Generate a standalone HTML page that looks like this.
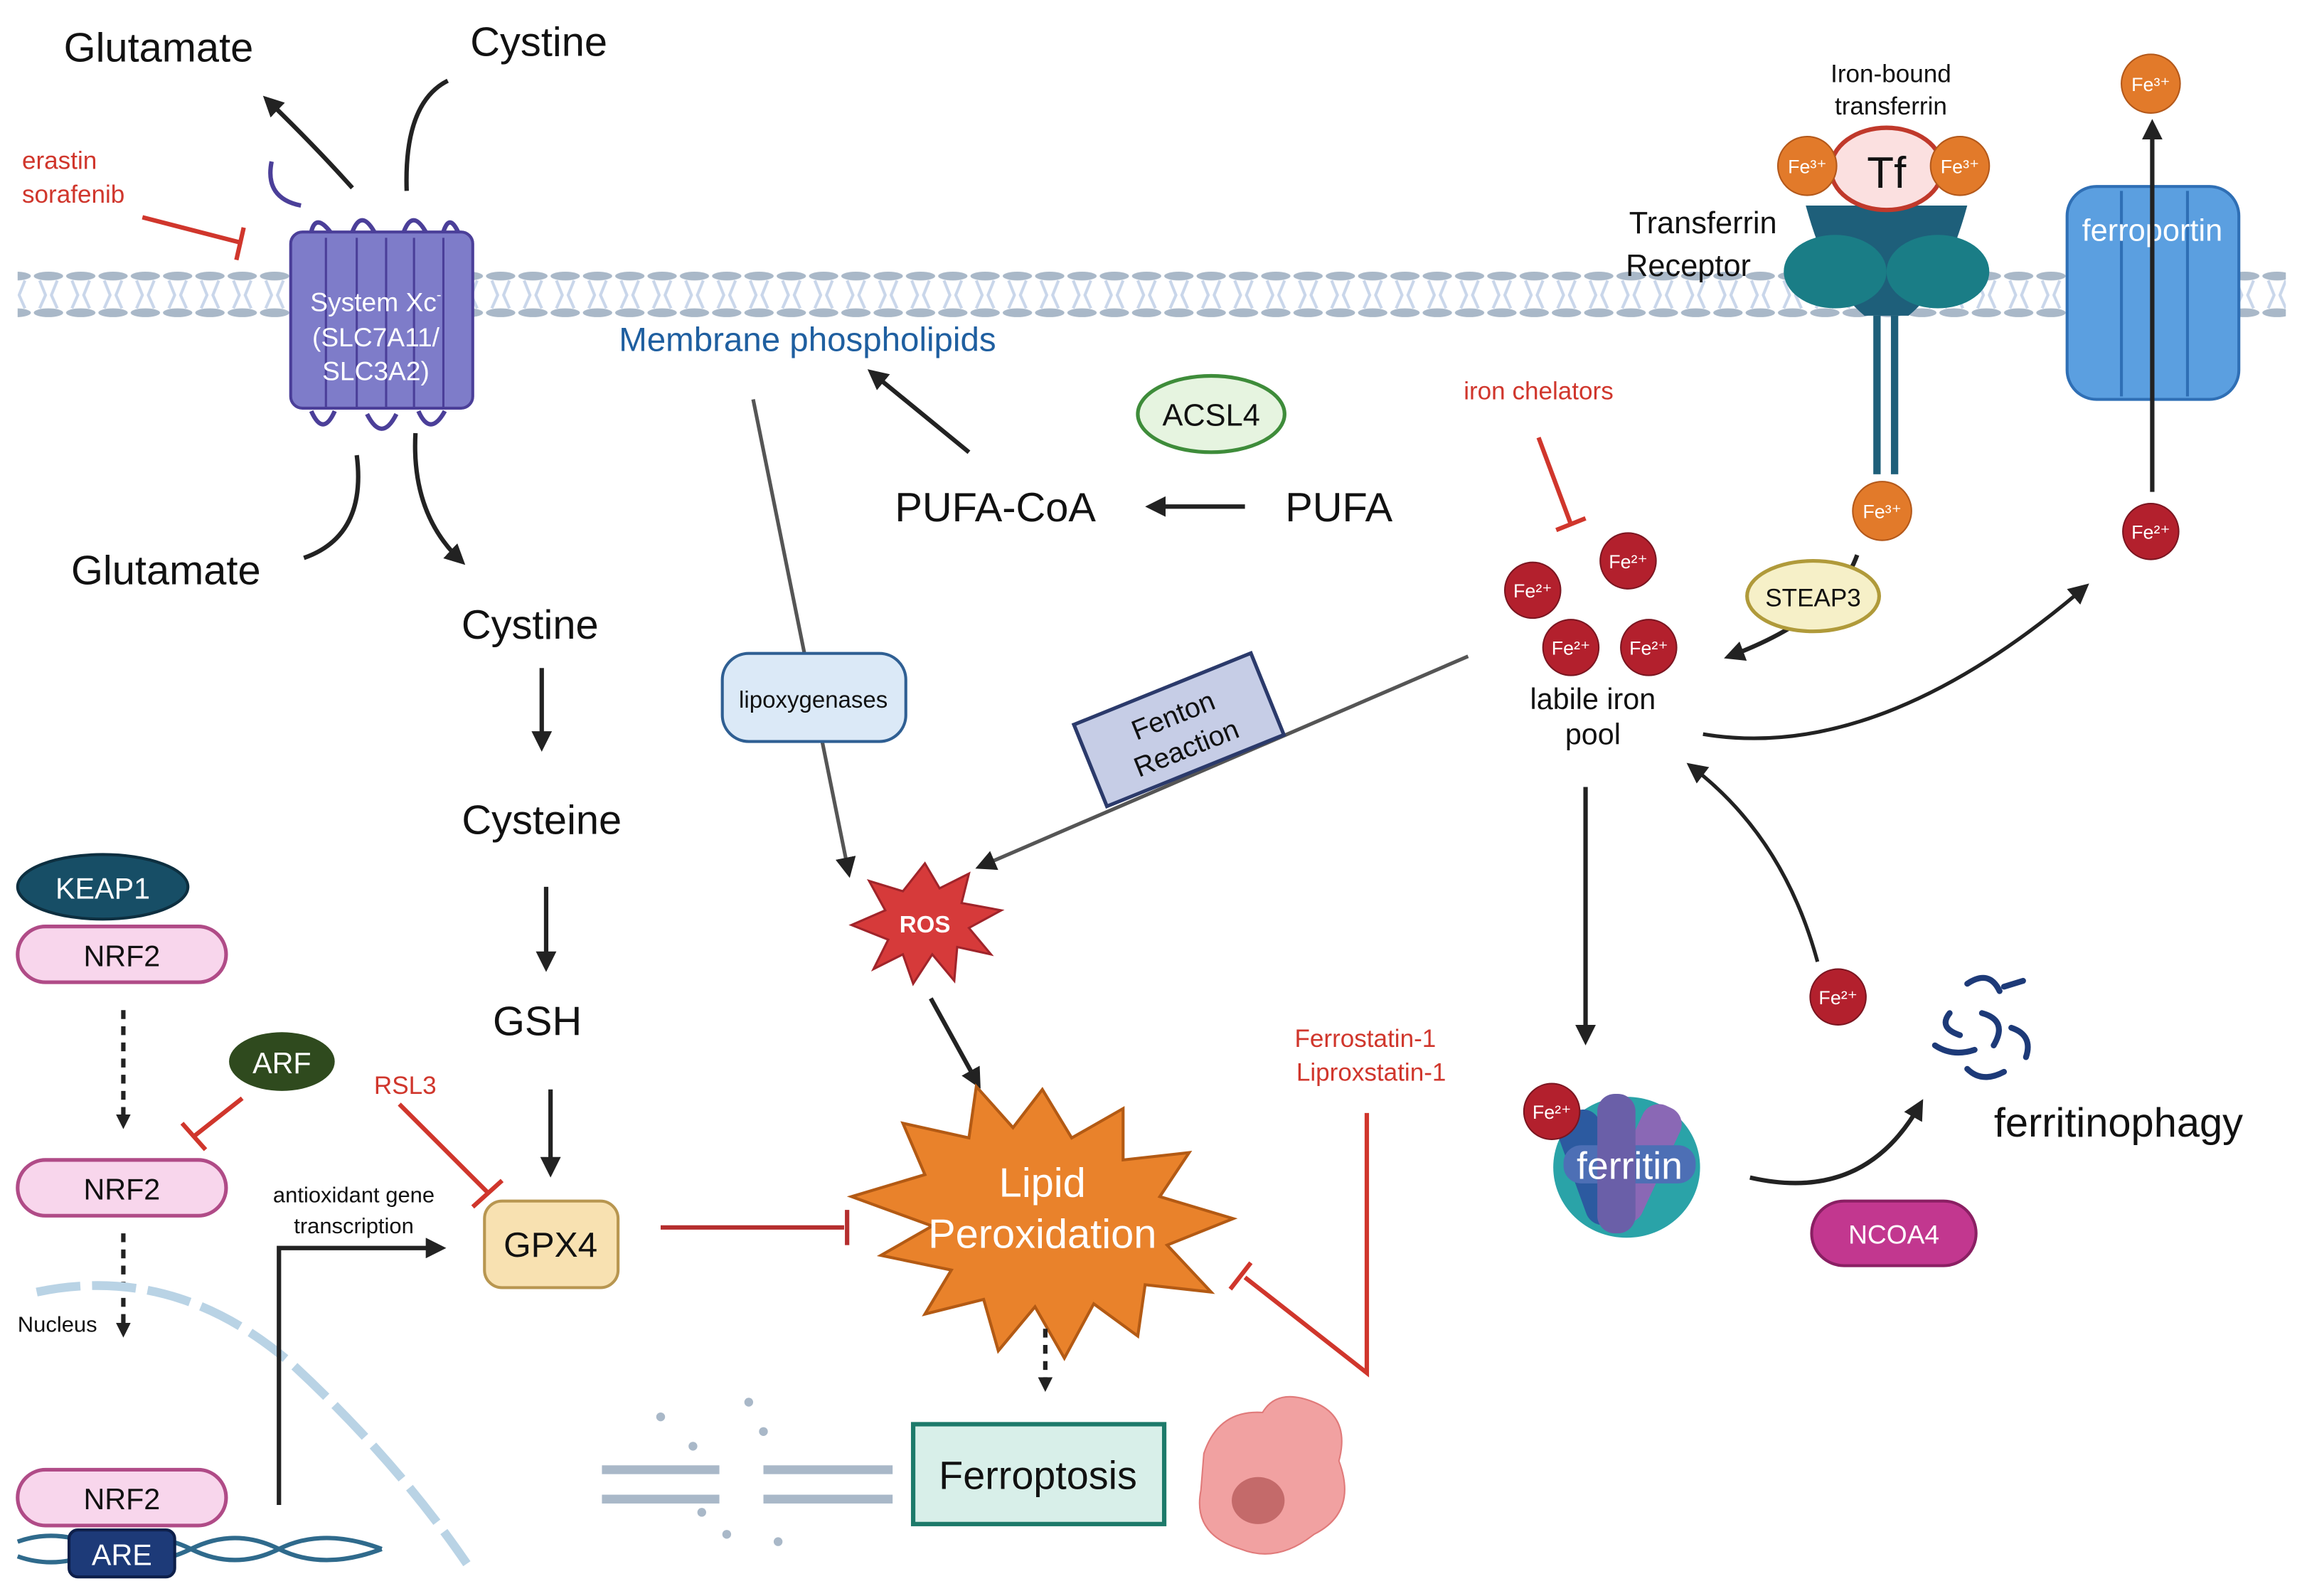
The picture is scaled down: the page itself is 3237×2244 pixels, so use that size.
<!DOCTYPE html>
<html><head><meta charset="utf-8"><style>
html,body{margin:0;padding:0;background:#fff}
svg{display:block}
text{font-family:"Liberation Sans",sans-serif}
</style></head><body>
<svg width="3237" height="2244" viewBox="0 0 1568 1087" xmlns="http://www.w3.org/2000/svg">
<defs>
<marker id="a" markerWidth="10" markerHeight="10" refX="7" refY="5" orient="auto" markerUnits="userSpaceOnUse"><path d="M0,0 L10,5 L0,10 z" fill="#222"/></marker>
<marker id="a2" markerWidth="14" markerHeight="14" refX="10" refY="7" orient="auto" markerUnits="userSpaceOnUse"><path d="M0,0 L14,7 L0,14 z" fill="#222"/></marker>
<pattern id="mem" width="22" height="32" patternUnits="userSpaceOnUse" y="185">
<ellipse cx="11" cy="3" rx="10" ry="3" fill="#a9b8c8"/>
<ellipse cx="11" cy="28" rx="10" ry="3" fill="#a9b8c8"/>
<path d="M5,6 L9,16 L5,25 M17,6 L13,16 L17,25" stroke="#c9d6ea" stroke-width="2" fill="none"/>
</pattern>
</defs>
<rect width="1568" height="1087" fill="#fff"/>
<!-- membrane -->
<rect x="12" y="185" width="1545" height="32" fill="url(#mem)"/>

<!-- top left -->
<text x="108" y="42" font-size="28" text-anchor="middle" fill="#111">Glutamate</text>
<text x="367" y="38" font-size="28" text-anchor="middle" fill="#111">Cystine</text>
<path d="M240,128 Q215,100 182,68" stroke="#222" stroke-width="3" fill="none" marker-end="url(#a2)"/>
<path d="M305,55 Q275,70 277,130" stroke="#222" stroke-width="3" fill="none"/>
<text x="15" y="115" font-size="17" fill="#d0362c">erastin</text>
<text x="15" y="138" font-size="17" fill="#d0362c">sorafenib</text>
<path d="M97,148 L163,165" stroke="#d0362c" stroke-width="3"/>
<path d="M166,155 L161,177" stroke="#d0362c" stroke-width="3"/>

<!-- System Xc -->
<g>
<path d="M185,110 Q180,135 205,140" stroke="#4b3f99" stroke-width="3" fill="none"/>
<rect x="198" y="158" width="124" height="120" rx="8" fill="#7e7cc9" stroke="#4b3f99" stroke-width="2"/>
<g stroke="#4b3f99" stroke-width="1.5" fill="none">
<path d="M222,162 V278 M243,162 V278 M263,162 V278 M282,162 V278 M302,162 V278"/>
<path d="M212,158 Q215,145 225,158 M240,158 Q246,142 255,158 M275,158 Q281,142 290,158 M302,158 Q306,145 312,158" stroke-width="3"/>
<path d="M212,280 Q220,298 228,280 M250,282 Q260,302 270,282 M285,280 Q293,298 303,280" stroke-width="3"/>
</g>
<text x="256" y="212" font-size="18" fill="#fff" text-anchor="middle">System Xc<tspan font-size="10" dy="-8">-</tspan></text>
<text x="256" y="236" font-size="18" fill="#fff" text-anchor="middle">(SLC7A11/</text>
<text x="256" y="259" font-size="18" fill="#fff" text-anchor="middle">SLC3A2)</text>
</g>
<path d="M243,310 Q250,365 207,380" stroke="#222" stroke-width="3" fill="none"/>
<path d="M283,295 Q280,350 314,382" stroke="#222" stroke-width="3" fill="none" marker-end="url(#a2)"/>
<text x="113" y="398" font-size="28" text-anchor="middle" fill="#111">Glutamate</text>
<text x="361" y="435" font-size="28" text-anchor="middle" fill="#111">Cystine</text>
<line x1="369" y1="455" x2="369" y2="508" stroke="#222" stroke-width="3" marker-end="url(#a2)"/>
<text x="369" y="568" font-size="28" text-anchor="middle" fill="#111">Cysteine</text>
<line x1="372" y1="604" x2="372" y2="658" stroke="#222" stroke-width="3" marker-end="url(#a2)"/>
<text x="366" y="705" font-size="28" text-anchor="middle" fill="#111">GSH</text>
<line x1="375" y1="742" x2="375" y2="798" stroke="#222" stroke-width="3" marker-end="url(#a2)"/>
<rect x="330" y="818" width="91" height="59" rx="12" fill="#f8e1b1" stroke="#b89650" stroke-width="2"/>
<text x="375" y="856" font-size="24" text-anchor="middle" fill="#111">GPX4</text>
<text x="276" y="745" font-size="17" fill="#d0362c" text-anchor="middle">RSL3</text>
<path d="M272,752 L333,813" stroke="#d0362c" stroke-width="3"/>
<path d="M322,822 L342,804" stroke="#d0362c" stroke-width="3"/>

<!-- Middle -->
<text x="550" y="239" font-size="23" text-anchor="middle" fill="#1f5fa0">Membrane phospholipids</text>
<ellipse cx="825" cy="282" rx="50" ry="26" fill="#e6f4e0" stroke="#3e8c3a" stroke-width="2.5"/>
<text x="825" y="290" font-size="21" text-anchor="middle" fill="#111">ACSL4</text>
<text x="678" y="355" font-size="28" text-anchor="middle" fill="#111">PUFA-CoA</text>
<text x="912" y="355" font-size="28" text-anchor="middle" fill="#111">PUFA</text>
<line x1="848" y1="345" x2="784" y2="345" stroke="#222" stroke-width="3" marker-end="url(#a2)"/>
<line x1="660" y1="308" x2="594" y2="254" stroke="#222" stroke-width="3" marker-end="url(#a2)"/>
<path d="M513,272 L578,594" stroke="#555" stroke-width="2.5" fill="none" marker-end="url(#a2)"/>
<rect x="492" y="445" width="125" height="60" rx="18" fill="#dbe9f7" stroke="#2f5f93" stroke-width="2"/>
<text x="554" y="482" font-size="16" text-anchor="middle" fill="#111">lipoxygenases</text>
<path d="M1000,447 L668,590" stroke="#555" stroke-width="2.5" fill="none" marker-end="url(#a2)"/>
<g transform="translate(803,497) rotate(-22)">
<rect x="-65" y="-30" width="130" height="60" fill="#c6cde6" stroke="#2b3a6b" stroke-width="2.5"/>
<text x="0" y="-4" font-size="19" text-anchor="middle" fill="#111">Fenton</text>
<text x="0" y="20" font-size="19" text-anchor="middle" fill="#111">Reaction</text>
</g>
<polygon points="630,588 640,605 660,595 655,615 682,620 660,632 675,650 652,645 650,668 635,650 622,670 615,650 595,660 605,640 580,630 603,620 592,600 615,607" fill="#d63a3a" stroke="#a0242a" stroke-width="1.5"/>
<text x="630" y="635" font-size="16" font-weight="bold" text-anchor="middle" fill="#fff">ROS</text>
<line x1="634" y1="680" x2="666" y2="738" stroke="#222" stroke-width="3" marker-end="url(#a2)"/>
<!-- lipid peroxidation -->
<polygon points="710,742 730,775 765,755 765,790 810,785 790,815 840,830 795,848 825,880 780,875 775,910 745,888 725,925 705,890 680,920 670,885 630,895 648,865 600,855 635,835 580,815 630,800 615,765 660,775 665,740 690,768" fill="#e9822b" stroke="#b35a14" stroke-width="2"/>
<text x="710" y="815" font-size="28" text-anchor="middle" fill="#fff">Lipid</text>
<text x="710" y="850" font-size="28" text-anchor="middle" fill="#fff">Peroxidation</text>
<path d="M450,836 L575,836" stroke="#b52e2e" stroke-width="3"/>
<path d="M577,824 L577,848" stroke="#b52e2e" stroke-width="3"/>
<line x1="712" y1="905" x2="712" y2="945" stroke="#222" stroke-width="3" stroke-dasharray="6,5" marker-end="url(#a)"/>
<rect x="622" y="970" width="171" height="68" fill="#d8efe9" stroke="#1d7a6a" stroke-width="3"/>
<text x="707" y="1014" font-size="27" text-anchor="middle" fill="#111">Ferroptosis</text>
<!-- broken membrane -->
<g fill="#a9b8c8">
<rect x="410" y="998" width="80" height="6"/><rect x="410" y="1018" width="80" height="6"/>
<rect x="520" y="998" width="88" height="6"/><rect x="520" y="1018" width="88" height="6"/>
<circle cx="450" cy="965" r="3"/><circle cx="472" cy="985" r="3"/><circle cx="520" cy="975" r="3"/><circle cx="510" cy="955" r="3"/><circle cx="495" cy="1045" r="3"/><circle cx="530" cy="1050" r="3"/><circle cx="478" cy="1030" r="3"/>
</g>
<!-- dying cell -->
<path d="M820,990 Q830,960 860,962 Q870,945 895,955 Q920,965 912,995 Q925,1030 895,1045 Q870,1065 845,1055 Q812,1045 818,1015 Z" fill="#f1a1a1" stroke="#e07a7a"/>
<ellipse cx="857" cy="1022" rx="18" ry="16" fill="#c46a6a"/>
<text x="930" y="713" font-size="17" text-anchor="middle" fill="#d0362c">Ferrostatin-1</text>
<text x="934" y="736" font-size="17" text-anchor="middle" fill="#d0362c">Liproxstatin-1</text>
<path d="M931,758 L931,935 L848,870" stroke="#d0362c" stroke-width="3" fill="none"/>
<path d="M838,878 L852,860" stroke="#d0362c" stroke-width="3"/>

<!-- left NRF2 -->
<ellipse cx="70" cy="604" rx="58" ry="22" fill="#174e66" stroke="#0d2f40" stroke-width="2"/>
<text x="70" y="612" font-size="20" text-anchor="middle" fill="#fff">KEAP1</text>
<rect x="12" y="631" width="142" height="38" rx="19" fill="#f8d6ec" stroke="#b04b87" stroke-width="2.5"/>
<text x="83" y="658" font-size="20" text-anchor="middle" fill="#111">NRF2</text>
<line x1="84" y1="688" x2="84" y2="766" stroke="#222" stroke-width="3" stroke-dasharray="6,5" marker-end="url(#a)"/>
<ellipse cx="192" cy="723" rx="36" ry="20" fill="#2f4a1e"/>
<text x="192" y="731" font-size="20" text-anchor="middle" fill="#fff">ARF</text>
<path d="M165,748 L132,774" stroke="#d0362c" stroke-width="3"/>
<path d="M124,765 L140,783" stroke="#d0362c" stroke-width="3"/>
<rect x="12" y="790" width="142" height="38" rx="19" fill="#f8d6ec" stroke="#b04b87" stroke-width="2.5"/>
<text x="83" y="817" font-size="20" text-anchor="middle" fill="#111">NRF2</text>
<line x1="84" y1="840" x2="84" y2="908" stroke="#222" stroke-width="3" stroke-dasharray="6,5" marker-end="url(#a)"/>
<text x="12" y="907" font-size="15" fill="#111">Nucleus</text>
<path d="M25,880 Q120,860 200,930 Q270,995 318,1065" stroke="#b9d3e5" stroke-width="6" fill="none" stroke-dasharray="30,8"/>
<path d="M190,1025 L190,850 L300,850" stroke="#222" stroke-width="3" fill="none" marker-end="url(#a2)"/>
<text x="241" y="819" font-size="15" text-anchor="middle" fill="#111">antioxidant gene</text>
<text x="241" y="840" font-size="15" text-anchor="middle" fill="#111">transcription</text>
<rect x="12" y="1001" width="142" height="38" rx="19" fill="#f8d6ec" stroke="#b04b87" stroke-width="2.5"/>
<text x="83" y="1028" font-size="20" text-anchor="middle" fill="#111">NRF2</text>
<path d="M12,1050 Q40,1040 70,1055 T130,1055 T190,1055 T260,1055 M12,1060 Q40,1070 70,1055 T130,1055 T190,1055 T260,1055" stroke="#2f6a8c" stroke-width="3" fill="none"/>
<rect x="47" y="1042" width="72" height="32" rx="6" fill="#1d3a78" stroke="#0d1f4a" stroke-width="2"/>
<text x="83" y="1066" font-size="20" text-anchor="middle" fill="#fff">ARE</text>

<!-- right iron -->
<text x="1288" y="56" font-size="17" text-anchor="middle" fill="#111">Iron-bound</text>
<text x="1288" y="78" font-size="17" text-anchor="middle" fill="#111">transferrin</text>
<path d="M1230,140 Q1245,195 1270,215 L1300,215 Q1325,195 1340,140 Z" fill="#1e5f7a"/>
<ellipse cx="1250" cy="185" rx="35" ry="25" fill="#1a7d86"/>
<ellipse cx="1320" cy="185" rx="35" ry="25" fill="#1a7d86"/>
<rect x="1276" y="215" width="5" height="108" fill="#1e5f7a"/>
<rect x="1288" y="215" width="5" height="108" fill="#1e5f7a"/>
<ellipse cx="1285" cy="115" rx="38" ry="28" fill="#fbe0e0" stroke="#c0392b" stroke-width="3"/>
<text x="1285" y="128" font-size="30" text-anchor="middle" fill="#111">Tf</text>
<g font-size="13" fill="#fff" text-anchor="middle">
<circle cx="1231" cy="113" r="20" fill="#e27a2a" stroke="#b3581a"/><text x="1231" y="118">Fe³⁺</text>
<circle cx="1335" cy="113" r="20" fill="#e27a2a" stroke="#b3581a"/><text x="1335" y="118">Fe³⁺</text>
<circle cx="1465" cy="57" r="20" fill="#e27a2a" stroke="#b3581a"/><text x="1465" y="62">Fe³⁺</text>
<circle cx="1282" cy="348" r="20" fill="#e27a2a" stroke="#b3581a"/><text x="1282" y="353">Fe³⁺</text>
</g>
<text x="1160" y="159" font-size="21" text-anchor="middle" fill="#111">Transferrin</text>
<text x="1150" y="188" font-size="21" text-anchor="middle" fill="#111">Receptor</text>
<rect x="1408" y="127" width="117" height="145" rx="20" fill="#5b9fe0" stroke="#2f6fb5" stroke-width="2"/>
<path d="M1445,130 V270 M1490,130 V270" stroke="#2f6fb5" stroke-width="2"/>
<text x="1466" y="164" font-size="21" text-anchor="middle" fill="#fff">ferroportin</text>
<line x1="1466" y1="335" x2="1466" y2="85" stroke="#222" stroke-width="3" marker-end="url(#a2)"/>
<text x="1048" y="272" font-size="17" text-anchor="middle" fill="#d0362c">iron chelators</text>
<path d="M1048,298 L1070,357" stroke="#d0362c" stroke-width="3"/>
<path d="M1060,361 L1080,353" stroke="#d0362c" stroke-width="3"/>
<g font-size="13" fill="#fff" text-anchor="middle">
<circle cx="1109" cy="382" r="19" fill="#b3202d" stroke="#7a1520"/><text x="1109" y="387">Fe²⁺</text>
<circle cx="1044" cy="402" r="19" fill="#b3202d" stroke="#7a1520"/><text x="1044" y="407">Fe²⁺</text>
<circle cx="1070" cy="441" r="19" fill="#b3202d" stroke="#7a1520"/><text x="1070" y="446">Fe²⁺</text>
<circle cx="1123" cy="441" r="19" fill="#b3202d" stroke="#7a1520"/><text x="1123" y="446">Fe²⁺</text>
<circle cx="1465" cy="362" r="19" fill="#b3202d" stroke="#7a1520"/><text x="1465" y="367">Fe²⁺</text>
<circle cx="1252" cy="679" r="19" fill="#b3202d" stroke="#7a1520"/><text x="1252" y="684">Fe²⁺</text>
</g>
<text x="1085" y="483" font-size="20" text-anchor="middle" fill="#111">labile iron</text>
<text x="1085" y="507" font-size="20" text-anchor="middle" fill="#111">pool</text>
<path d="M1265,378 Q1250,420 1178,447" stroke="#222" stroke-width="3" fill="none" marker-end="url(#a2)"/>
<ellipse cx="1235" cy="406" rx="45" ry="24" fill="#f6f0c8" stroke="#b09a3a" stroke-width="2.5"/>
<text x="1235" y="413" font-size="17" text-anchor="middle" fill="#111">STEAP3</text>
<path d="M1160,500 Q1280,520 1420,400" stroke="#222" stroke-width="2.5" fill="none" marker-end="url(#a2)"/>
<line x1="1080" y1="536" x2="1080" y2="708" stroke="#222" stroke-width="3" marker-end="url(#a2)"/>
<path d="M1238,655 Q1215,570 1152,522" stroke="#222" stroke-width="2.5" fill="none" marker-end="url(#a2)"/>
<!-- ferritin -->
<g>
<ellipse cx="1108" cy="795" rx="50" ry="48" fill="#2aa3a8"/>
<rect x="1070" y="755" width="30" height="80" rx="12" fill="#2c5aa0" transform="rotate(-20 1085 795)"/>
<rect x="1105" y="750" width="28" height="85" rx="12" fill="#8a68b5" transform="rotate(25 1119 792)"/>
<rect x="1065" y="780" width="90" height="26" rx="12" fill="#4d6fb5"/>
<rect x="1088" y="745" width="26" height="95" rx="12" fill="#6a5fa8"/>
<text x="1110" y="803" font-size="26" text-anchor="middle" fill="#fff">ferritin</text>
<circle cx="1057" cy="757" r="19" fill="#b3202d" stroke="#7a1520"/><text x="1057" y="762" font-size="13" fill="#fff" text-anchor="middle">Fe²⁺</text>
</g>
<path d="M1192,802 Q1270,820 1308,752" stroke="#222" stroke-width="3" fill="none" marker-end="url(#a2)"/>
<rect x="1234" y="818" width="112" height="44" rx="22" fill="#c2378f" stroke="#8a1f63" stroke-width="2"/>
<text x="1290" y="847" font-size="18" text-anchor="middle" fill="#fff">NCOA4</text>
<g stroke="#1d3a78" stroke-width="4" fill="none" stroke-linecap="round">
<path d="M1340,670 Q1355,660 1362,675 M1328,690 Q1320,700 1335,705 M1350,690 Q1368,695 1358,712 M1370,700 Q1385,705 1380,720 M1318,712 Q1330,720 1345,715 M1340,728 Q1350,738 1365,730 M1365,672 L1378,668"/>
</g>
<text x="1443" y="774" font-size="28" text-anchor="middle" fill="#111">ferritinophagy</text>
</svg>
</body></html>
